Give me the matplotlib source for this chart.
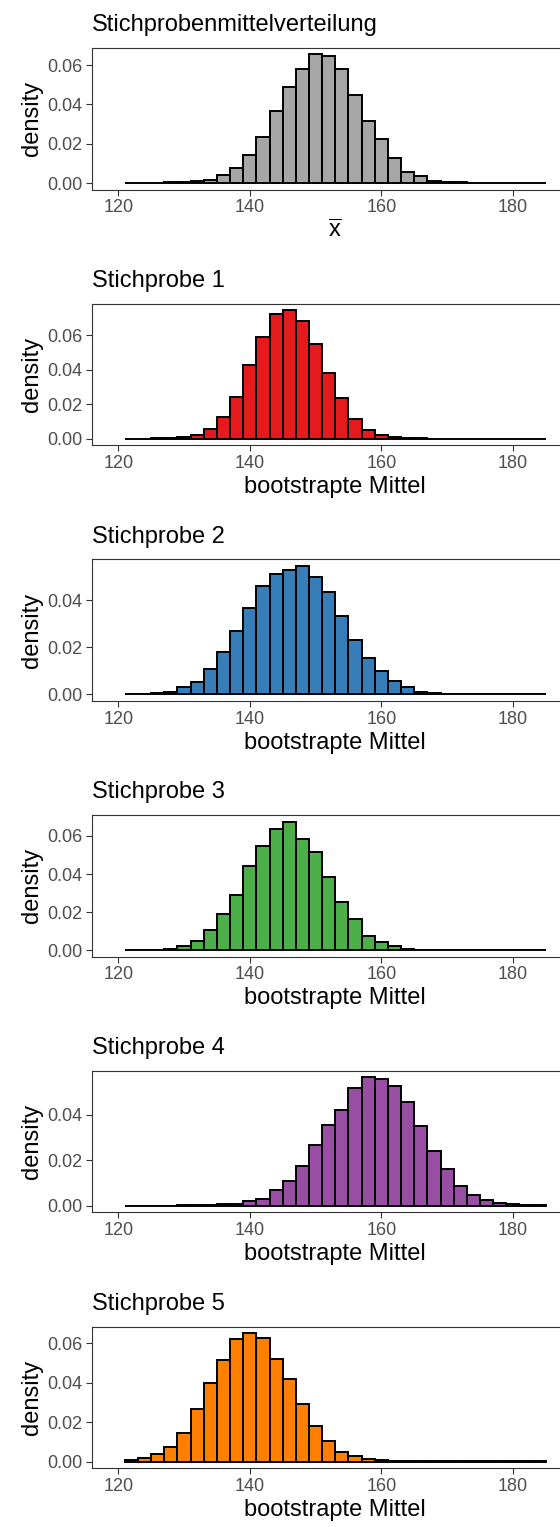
import numpy as np
import matplotlib
matplotlib.use("Agg")
import matplotlib.pyplot as plt
from matplotlib.ticker import MultipleLocator, FormatStrFormatter

plt.rcParams['font.family'] = ['Liberation Sans', 'DejaVu Sans']
plt.rcParams['mathtext.fontset'] = 'custom'
plt.rcParams['mathtext.rm'] = 'Liberation Sans'
plt.rcParams['mathtext.it'] = 'Liberation Sans:italic'

# bins of width 2 from 121 to 185
bin_edges = np.arange(121, 187, 2)

titles = ["Stichprobenmittelverteilung", "Stichprobe 1", "Stichprobe 2",
          "Stichprobe 3", "Stichprobe 4", "Stichprobe 5"]
xlabels = [r"$\overline{\mathrm{x}}$"] + ["bootstrapte Mittel"] * 5
colors = ["#A6A6A6", "#E41A1C", "#377EB8", "#4DAF4A", "#984EA3", "#FF7F00"]

dens_pop = [0.0001, 0.0001, 0.0002, 0.0003, 0.0005, 0.0010, 0.0017, 0.0039,
            0.0077, 0.0145, 0.0234, 0.0368, 0.0487, 0.0580, 0.0654, 0.0645,
            0.0578, 0.0450, 0.0316, 0.0222, 0.0128, 0.0057, 0.0034, 0.0012,
            0.0005, 0.0003, 0.0002, 0.0001, 0.0001, 0.0001, 0.0001, 0.0001]
dens_s1 = [0.0001, 0.0001, 0.0002, 0.0004, 0.0009, 0.0020, 0.0054, 0.0127,
           0.0240, 0.0425, 0.0587, 0.0724, 0.0745, 0.0683, 0.0548, 0.0382,
           0.0235, 0.0116, 0.0050, 0.0023, 0.0010, 0.0004, 0.0002, 0.0001,
           0.0001, 0.0001, 0.0001, 0.0001, 0.0001, 0.0001, 0.0001, 0.0001]
dens_s2 = [0.0001, 0.0003, 0.0007, 0.0011, 0.0030, 0.0054, 0.0109, 0.0179,
           0.0269, 0.0366, 0.0460, 0.0512, 0.0529, 0.0546, 0.0500, 0.0436,
           0.0332, 0.0230, 0.0154, 0.0100, 0.0057, 0.0031, 0.0011, 0.0006,
           0.0003, 0.0002, 0.0001, 0.0001, 0.0001, 0.0001, 0.0001, 0.0001]
dens_s3 = [0.0001, 0.0001, 0.0003, 0.0007, 0.0021, 0.0049, 0.0104, 0.0188,
           0.0292, 0.0444, 0.0546, 0.0635, 0.0676, 0.0586, 0.0517, 0.0384,
           0.0255, 0.0162, 0.0074, 0.0042, 0.0021, 0.0007, 0.0003, 0.0002,
           0.0001, 0.0001, 0.0001, 0.0001, 0.0001, 0.0001, 0.0001, 0.0001]
dens_s4 = [0.0001, 0.0001, 0.0001, 0.0001, 0.0002, 0.0003, 0.0004, 0.0007,
           0.0010, 0.0020, 0.0032, 0.0069, 0.0110, 0.0174, 0.0267, 0.0353,
           0.0419, 0.0517, 0.0564, 0.0558, 0.0524, 0.0454, 0.0350, 0.0239,
           0.0161, 0.0089, 0.0048, 0.0026, 0.0013, 0.0006, 0.0003, 0.0002]
dens_s5 = [0.0008, 0.0017, 0.0037, 0.0076, 0.0144, 0.0265, 0.0396, 0.0517,
           0.0622, 0.0652, 0.0625, 0.0519, 0.0417, 0.0291, 0.0179, 0.0105,
           0.0051, 0.0030, 0.0014, 0.0007, 0.0005, 0.0003, 0.0004, 0.0002,
           0.0002, 0.0001, 0.0001, 0.0001, 0.0001, 0.0001, 0.0001, 0.0001]

all_dens = [dens_pop, dens_s1, dens_s2, dens_s3, dens_s4, dens_s5]

W, H = 560, 1527
fig = plt.figure(figsize=(W / 100, H / 100), dpi=100)

left_px = 92
width_px = 486.6
height_px = 141.5
spine_col = "#333333"

for i, dens in enumerate(all_dens):
    top_px = 48 + 255.7 * i
    ax = fig.add_axes([left_px / W, 1 - (top_px + height_px) / H,
                       width_px / W, height_px / H])
    dens = np.array(dens)
    ax.bar(bin_edges[:-1], dens, width=2, align='edge', color=colors[i],
           edgecolor='black', linewidth=1.4)
    ymax = dens.max()
    ax.set_ylim(-0.05 * ymax, 1.05 * ymax)
    ax.set_xlim(116, 190)
    ax.xaxis.set_major_locator(MultipleLocator(20))
    ax.yaxis.set_major_locator(MultipleLocator(0.02))
    ax.yaxis.set_major_formatter(FormatStrFormatter('%.2f'))
    for s in ax.spines.values():
        s.set_color(spine_col)
        s.set_linewidth(0.8)
    ax.tick_params(axis='both', colors=spine_col, labelcolor='#4D4D4D',
                   labelsize=13, length=4, width=0.8, pad=3)
    ax.set_title(titles[i], loc='left', fontsize=17, pad=12)
    ax.set_ylabel("density", fontsize=17, labelpad=3)
    ax.set_xlabel(xlabels[i], fontsize=17, labelpad=3)

fig.savefig("out.png", dpi=100)
